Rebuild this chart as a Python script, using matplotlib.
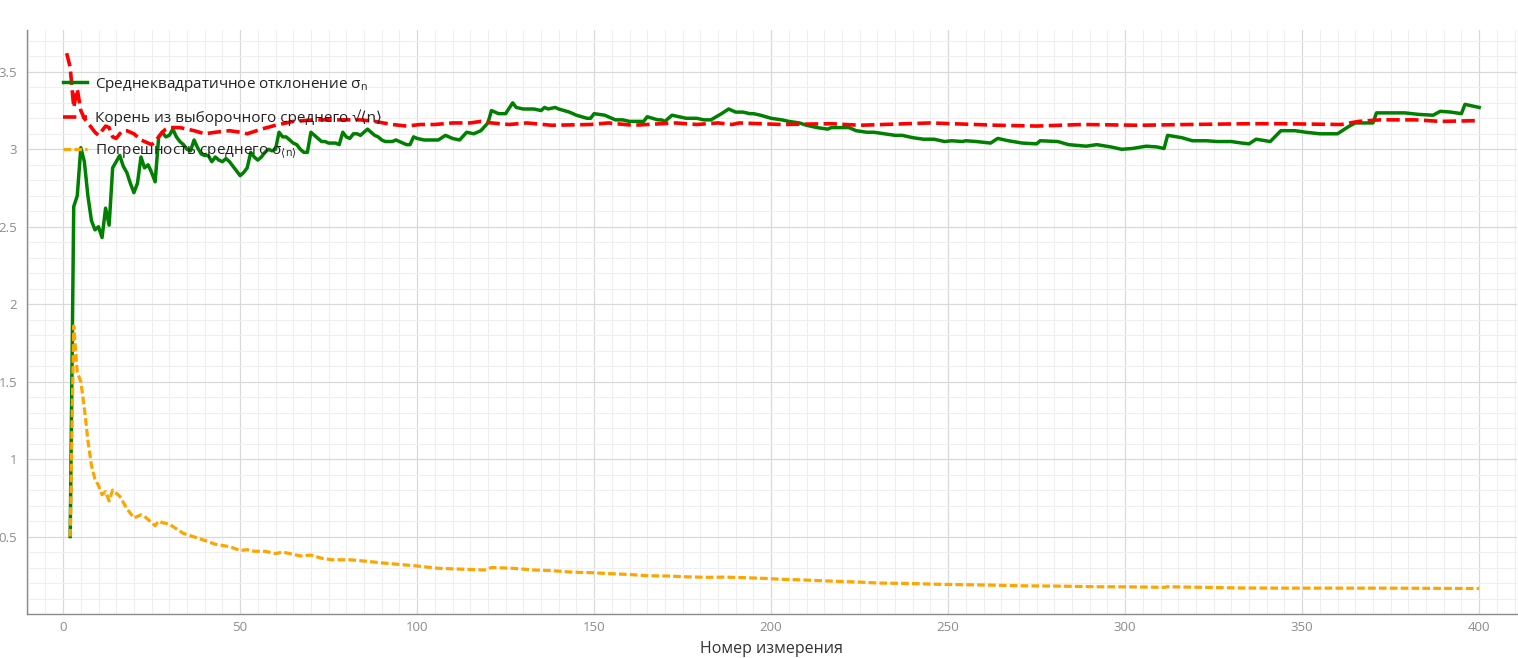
import matplotlib
matplotlib.use("Agg")
import matplotlib.pyplot as plt
from matplotlib.ticker import MultipleLocator, FuncFormatter

plt.rcParams['font.family'] = ['Open Sans', 'DejaVu Sans']
plt.rcParams['mathtext.fontset'] = 'dejavusans'

# ---- data ----
green_n = [2, 3, 4, 5, 6, 7, 8, 9, 10, 11, 12, 13, 14, 15, 16, 17, 18, 19, 20,
           21, 22, 23, 24, 25, 26, 27, 28, 29, 30, 31, 32, 33, 34, 35, 36, 37, 38, 39, 40,
           41, 42, 43, 44, 45, 46, 47, 48, 49, 50, 51, 52, 53, 54, 55, 56, 57, 58, 59, 60,
           61, 62, 63, 64, 65, 66, 67, 68, 69, 70, 71, 72, 73, 74, 75, 76, 77, 78, 79, 80,
           81, 82, 83, 84, 85, 86, 87, 88, 89, 90, 91, 92, 93, 94, 95, 96, 97, 98, 99, 100,
           102, 104, 106, 108, 110, 112, 114, 116, 118, 120, 121, 123, 125, 127, 128, 130,
           132, 133, 135, 136, 137, 139, 140, 143, 145, 148, 149, 150, 153, 156, 158, 160,
           162, 164, 165, 168, 169, 170, 172, 174, 176, 179, 181, 183, 186, 188, 190, 192,
           194, 195, 197, 200, 203, 205, 208, 210, 213, 216, 217, 220, 222, 224, 227, 229,
           232, 235, 237, 240, 243, 246, 249, 251, 254, 255, 258, 262, 264, 267, 271, 275,
           276, 281, 284, 289, 292, 296, 299, 302, 306, 309, 311, 312, 316, 319, 323, 326,
           330, 333, 335, 337, 341, 344, 348, 351, 355, 360, 363, 365, 368, 370, 371, 374,
           379, 383, 387, 389, 392, 395, 396, 398, 400]
green_v = [0.50, 2.63, 2.70, 3.01, 2.92, 2.70, 2.54, 2.48, 2.50, 2.43, 2.62, 2.51, 2.88, 2.92, 2.96, 2.89, 2.85, 2.78, 2.72,
           2.78, 2.95, 2.88, 2.90, 2.85, 2.79, 3.08, 3.11, 3.08, 3.09, 3.13, 3.08, 3.05, 3.03, 3.00, 2.99, 3.06, 3.01, 2.97, 2.96,
           2.96, 2.92, 2.95, 2.93, 2.92, 2.94, 2.92, 2.89, 2.86, 2.83, 2.85, 2.88, 2.98, 2.95, 2.93, 2.95, 2.98, 3.00, 2.99, 3.00,
           3.11, 3.08, 3.08, 3.06, 3.04, 3.03, 3.00, 2.98, 2.98, 3.11, 3.09, 3.07, 3.05, 3.05, 3.04, 3.04, 3.04, 3.03, 3.11, 3.08,
           3.07, 3.10, 3.10, 3.09, 3.11, 3.13, 3.11, 3.09, 3.08, 3.06, 3.05, 3.05, 3.05, 3.06, 3.05, 3.04, 3.03, 3.03, 3.08, 3.07,
           3.06, 3.06, 3.06, 3.09, 3.07, 3.06, 3.11, 3.10, 3.12, 3.17, 3.25, 3.23, 3.23, 3.30, 3.27, 3.26,
           3.26, 3.26, 3.25, 3.27, 3.26, 3.27, 3.26, 3.24, 3.22, 3.20, 3.20, 3.23, 3.22, 3.19, 3.19, 3.18,
           3.18, 3.18, 3.21, 3.19, 3.19, 3.18, 3.22, 3.21, 3.20, 3.20, 3.19, 3.19, 3.23, 3.26, 3.24, 3.24,
           3.23, 3.23, 3.22, 3.20, 3.19, 3.18, 3.17, 3.155, 3.14, 3.13, 3.14, 3.14, 3.14, 3.12, 3.11, 3.11,
           3.10, 3.09, 3.09, 3.075, 3.065, 3.065, 3.05, 3.055, 3.05, 3.055, 3.05, 3.04, 3.07, 3.055, 3.04, 3.035,
           3.055, 3.05, 3.03, 3.02, 3.03, 3.015, 3.00, 3.005, 3.02, 3.015, 3.005, 3.09, 3.075, 3.055, 3.055, 3.05,
           3.05, 3.04, 3.035, 3.065, 3.05, 3.12, 3.12, 3.11, 3.10, 3.10, 3.145, 3.17, 3.17, 3.17, 3.235, 3.235,
           3.235, 3.225, 3.22, 3.245, 3.24, 3.23, 3.29, 3.28, 3.27]

red_n = [1, 2, 3, 4, 5, 6, 7, 8, 9, 10, 11, 12, 13, 14, 15, 16, 17, 18, 19, 20,
         21, 22, 23, 24, 25, 26, 27, 28, 29, 30, 33, 35, 37, 40, 43, 47, 50, 52, 56, 60,
         65, 71, 76, 80, 84, 88, 93, 97, 101, 105, 110, 115, 118, 121, 126, 131, 138, 149,
         154, 161, 165, 173, 179, 185, 189, 191, 203, 217, 225, 245, 264, 275, 288, 304,
         318, 335, 344, 361, 366, 372, 382, 389, 400]
red_v = [3.62, 3.53, 3.27, 3.39, 3.25, 3.20, 3.17, 3.14, 3.11, 3.09, 3.12, 3.15, 3.14, 3.08, 3.07, 3.10, 3.12, 3.12, 3.11, 3.10,
         3.08, 3.06, 3.05, 3.04, 3.03, 3.05, 3.08, 3.11, 3.13, 3.14, 3.14, 3.13, 3.12, 3.10, 3.11, 3.12, 3.11, 3.10, 3.13, 3.155,
         3.18, 3.19, 3.19, 3.19, 3.19, 3.18, 3.16, 3.15, 3.16, 3.16, 3.17, 3.17, 3.18, 3.17, 3.16, 3.17, 3.155, 3.16,
         3.17, 3.155, 3.16, 3.17, 3.16, 3.17, 3.16, 3.17, 3.16, 3.165, 3.155, 3.17, 3.155, 3.15, 3.16, 3.155,
         3.16, 3.165, 3.165, 3.16, 3.18, 3.19, 3.19, 3.18, 3.185]

orange_n = [2, 3, 4, 5, 6, 7, 8, 9, 10, 11, 12, 13, 14, 15, 16, 17, 18, 19, 20,
            21, 22, 23, 24, 25, 26, 27, 28, 29, 30, 32, 34, 36, 38, 40, 43, 47, 50, 52, 54,
            57, 60, 62, 67, 70, 73, 76, 81, 86, 90, 95, 100, 106, 112, 119, 121, 127, 133,
            138, 144, 149, 155, 160, 165, 171, 176, 182, 187, 192, 198, 203, 209, 214, 220,
            225, 230, 236, 241, 247, 252, 261, 271, 281, 292, 302, 311, 312, 322, 333, 343,
            353, 363, 373, 384, 394, 400]
orange_v = [0.50, 1.86, 1.56, 1.50, 1.33, 1.12, 0.96, 0.87, 0.83, 0.77, 0.79, 0.73, 0.80, 0.78, 0.76, 0.72, 0.68, 0.65, 0.62,
            0.63, 0.64, 0.63, 0.61, 0.59, 0.57, 0.60, 0.59, 0.585, 0.58, 0.55, 0.52, 0.505, 0.49, 0.475, 0.45, 0.435, 0.41, 0.415, 0.405,
            0.405, 0.39, 0.40, 0.375, 0.38, 0.36, 0.35, 0.35, 0.34, 0.33, 0.32, 0.31, 0.295, 0.29, 0.284, 0.30, 0.295, 0.284,
            0.28, 0.27, 0.267, 0.26, 0.255, 0.247, 0.245, 0.24, 0.237, 0.238, 0.235, 0.23, 0.224, 0.22, 0.215, 0.21,
            0.206, 0.20, 0.198, 0.196, 0.192, 0.19, 0.187, 0.182, 0.18, 0.176, 0.175, 0.172, 0.176, 0.172, 0.168, 0.167,
            0.167, 0.167, 0.167, 0.166, 0.165, 0.165]

labels = ["Среднеквадратичное отклонение σ$_\\mathregular{n}$",
          "Корень из выборочного среднего √⟨n⟩",
          "Погрешность среднего σ$_{\\langle\\mathregular{n}\\rangle}$"]
x_label = "Номер измерения"
x_ticks = [0, 50, 100, 150, 200, 250, 300, 350, 400]
y_ticks = [0.5, 1, 1.5, 2, 2.5, 3, 3.5]

# ---- figure ----
fig = plt.figure(figsize=(15.18, 6.58), dpi=100)
ax = fig.add_axes([27 / 1518, 1 - 614 / 658, 1490 / 1518, 584 / 658])

ax.plot(green_n, green_v, color='#008000', lw=2.5, label=labels[0], zorder=3)
ax.plot(red_n, red_v, color='#ff0000', lw=2.6, dashes=(3.7, 1.5), label=labels[1], zorder=3)
ax.plot(orange_n, orange_v, color='#ffa500', lw=2.3, dashes=(2.4, 1.0), label=labels[2], zorder=4)

ax.set_xlim(-10.2, 410.7)
ax.set_ylim(0.0, 3.77)
ax.set_xticks(x_ticks)
ax.set_yticks(y_ticks)
ax.xaxis.set_minor_locator(MultipleLocator(5))
ax.yaxis.set_minor_locator(MultipleLocator(0.1))
ax.yaxis.set_major_formatter(FuncFormatter(lambda v, p: f"{v:g}"))

ax.grid(which='major', color='#d9d9d9', lw=0.9)
ax.grid(which='minor', color='#efefef', lw=0.8)
ax.set_axisbelow(True)

for s in ['top', 'right']:
    ax.spines[s].set_visible(False)
for s in ['left', 'bottom']:
    ax.spines[s].set_color('#8c8c8c')
    ax.spines[s].set_linewidth(1.0)

ax.tick_params(which='both', length=0, colors='#8c8c8c', labelsize=9.5)
ax.tick_params(axis='x', pad=5)
ax.tick_params(axis='y', pad=7)
ax.set_xlabel(x_label, fontsize=11.5, color='#333333', labelpad=5)

leg = ax.legend(loc='upper left', bbox_to_anchor=(0.024, 0.922), frameon=False,
                fontsize=11, handlelength=1.6, handletextpad=0.5,
                labelspacing=1.05, borderpad=0, borderaxespad=0)
for t in leg.get_texts():
    t.set_color('#222222')

fig.savefig('out.png', dpi=100, facecolor='white')
